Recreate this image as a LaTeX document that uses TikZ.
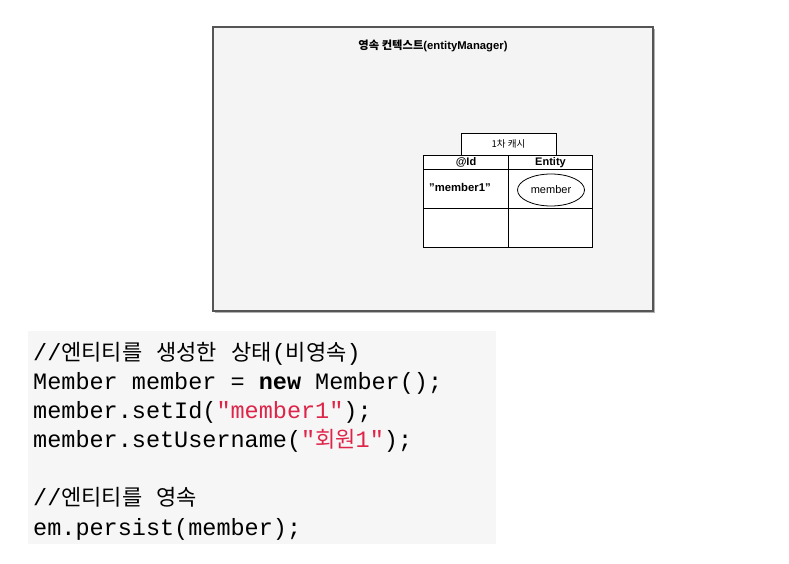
\documentclass[tikz,border=0pt]{standalone}
\usepackage{fontspec}
\setmainfont{Liberation Sans}
\setmonofont{Liberation Mono}
\newfontfamily\krfont{Noto Sans CJK KR}
\newcommand{\ko}[1]{{\krfont #1}}
\newcommand{\kocode}[1]{{\krfont\fontsize{22}{24}\selectfont #1}}
\usetikzlibrary{shapes.geometric}
\definecolor{ctxgray}{RGB}{244,244,244}
\definecolor{ctxline}{RGB}{85,85,85}
\definecolor{codebg}{RGB}{246,246,246}
\definecolor{strred}{RGB}{222,36,72}
\tikzset{
  ctxbox/.style={draw=ctxline,fill=ctxgray,line width=1.2pt},
  cell/.style={draw,fill=white,line width=1pt,inner sep=0pt,minimum width=84.5pt},
  celltext/.style={font=\fontsize{10}{12}\selectfont},
  headtext/.style={font=\bfseries\fontsize{11}{12}\selectfont,text height=8pt,text depth=1pt},
  codeline/.style={anchor=base west,inner sep=0pt,font=\ttfamily\fontsize{23.5}{28}\selectfont}
}
\begin{document}
\begin{tikzpicture}[x=1pt,y=-1pt]
  \useasboundingbox (0,0) rectangle (789,563);

  % persistence context
  \fill[black!30] (215,29) rectangle (655,313);
  \draw[ctxbox] (213,27) rectangle (653,311);
  \node[font=\bfseries\fontsize{11.3}{13}\selectfont] (title) at (433,46)
    {\ko{영속 컨텍스트}(entityManager)};

  % first level cache
  \node[cell,minimum width=95pt,minimum height=22pt,celltext,font=\fontsize{9.5}{11}\selectfont] (tab) at (508.5,144) {\ko{1차 캐시}};
  \node[cell,minimum height=14pt,headtext] (hid) at (466,162) {@Id};
  \node[cell,minimum height=14pt,headtext] (hent) at (550.5,162) {Entity};
  \node[cell,minimum height=39pt] (c11) at (466,188.5) {};
  \node[cell,minimum height=39pt] (c12) at (550.5,188.5) {};
  \node[cell,minimum height=39pt] (c21) at (466,227.5) {};
  \node[cell,minimum height=39pt] (c22) at (550.5,227.5) {};
  \node[headtext,font=\bfseries\fontsize{11.3}{12}\selectfont,anchor=west,inner sep=0pt] (key) at (429,188) {"member1"};
  \node[draw,ellipse,line width=0.8pt,minimum width=67pt,minimum height=32pt,inner sep=0pt,
        font=\fontsize{11}{12}\selectfont] (ent) at (551,190) {member};

  % code
  \fill[codebg] (28,331) rectangle (496,544);
  \node[codeline] (l1) at (33,360) {//\kocode{엔티티를} \kocode{생성한} \kocode{상태}(\kocode{비영속})};
  \node[codeline] (l2) at (33,389) {Member member = \textbf{new} Member();};
  \node[codeline] (l3) at (33,418) {member.setId(\textcolor{strred}{"member1"});};
  \node[codeline] (l4) at (33,447) {member.setUsername(\textcolor{strred}{"\kocode{회원}1"});};
  \node[codeline] (l5) at (33,505) {//\kocode{엔티티를} \kocode{영속}};
  \node[codeline] (l6) at (33,535) {em.persist(member);};
\end{tikzpicture}
\end{document}
